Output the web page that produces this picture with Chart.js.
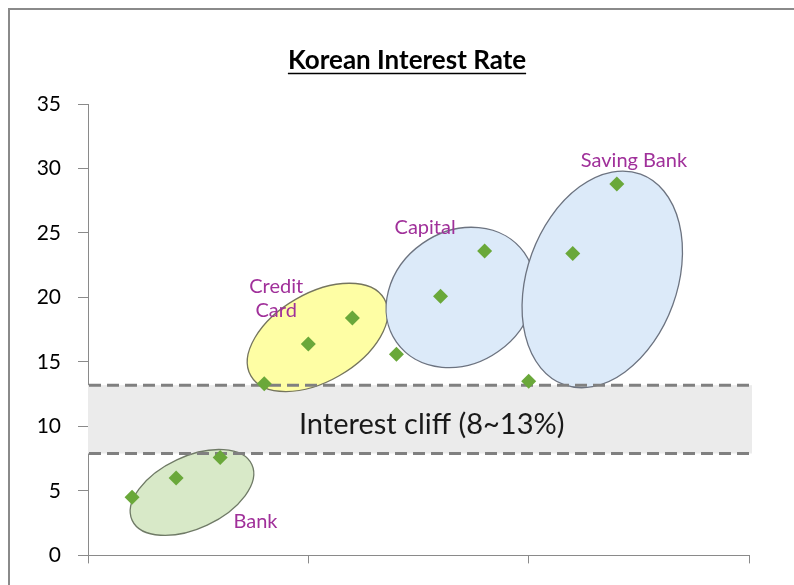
<!DOCTYPE html>
<html><head><meta charset="utf-8">
<script src="https://cdn.jsdelivr.net/npm/chart.js@4/dist/chart.umd.min.js"></script>
<style>html,body{margin:0;padding:0;background:#fff;overflow:hidden}#wrap{width:794px;height:585px;position:relative}</style>
</head><body><div id="wrap"><canvas id="c" width="794" height="585"></canvas></div>
<script>
// ---- data ----
const xPositions = [1, 2, 3, 4, 5, 6, 7, 8, 9, 10, 11, 12];
const rates = [4.5, 6.0, 7.6, 13.3, 16.4, 18.4, 15.6, 20.1, 23.6, 13.5, 23.4, 28.8];
const yTickValues = [0, 5, 10, 15, 20, 25, 30, 35];
const xTickValues = [0, 5, 10, 15];
const cliffLow = 7.9;
const cliffHigh = 13.2;
const titleText = 'Korean Interest Rate';
const cliffText = 'Interest cliff (8~13%)';
const groupNames = ['Bank', 'Credit\nCard', 'Capital', 'Saving Bank'];

// ---- annotation shapes (data-space centres, pixel radii) ----
const groupShapes = [
  {cx: 2.36, cy: 4.88, rx: 66, ry: 36, rot: -25, fill: '#d8e9c8', stroke: '#6f7a66', lx: 3.8, ly: 2.63},
  {cx: 5.21, cy: 16.9, rx: 77, ry: 44, rot: -30, fill: '#fefea4', stroke: '#75755e', lx: 4.27, ly: 19.9},
  {cx: 8.45, cy: 20.0, rx: 78, ry: 66, rot: -35, fill: '#dceaf9', stroke: '#6c7380', lx: 7.65, ly: 25.4},
  {cx: 11.67, cy: 21.4, rx: 75, ry: 112, rot: 20, fill: '#dceaf9', stroke: '#6c7380', lx: 12.39, ly: 30.6}
];

const FONT = 'Lato, "Open Sans", sans-serif';

const decorPlugin = {
  id: 'decor',
  beforeDraw(chart) {
    const ctx = chart.ctx;
    ctx.save();
    ctx.fillStyle = '#fff';
    ctx.fillRect(0, 0, chart.width, chart.height);
    ctx.strokeStyle = '#8a8a8a';
    ctx.lineWidth = 2;
    ctx.strokeRect(9, 9, 900, 700);
    // title
    ctx.font = 'bold 26px ' + FONT;
    ctx.fillStyle = '#000';
    ctx.textAlign = 'center';
    ctx.textBaseline = 'middle';
    ctx.fillText(titleText, 407, 61);
    const w = ctx.measureText(titleText).width;
    ctx.strokeStyle = '#000';
    ctx.lineWidth = 1.5;
    ctx.beginPath();
    ctx.moveTo(407 - w / 2, 73.5);
    ctx.lineTo(407 + w / 2, 73.5);
    ctx.stroke();
    ctx.restore();
  },
  beforeDatasetsDraw(chart) {
    const ctx = chart.ctx;
    const xs = chart.scales.x, ys = chart.scales.y;
    const x0 = xs.getPixelForValue(0), x1 = xs.getPixelForValue(15) + 3;
    const yH = ys.getPixelForValue(cliffHigh), yL = ys.getPixelForValue(cliffLow);
    ctx.save();
    // band
    ctx.fillStyle = '#ebebeb';
    ctx.fillRect(x0, yH, x1 - x0, yL - yH);
    // ellipses
    groupShapes.forEach(g => {
      ctx.beginPath();
      ctx.ellipse(xs.getPixelForValue(g.cx), ys.getPixelForValue(g.cy), g.rx, g.ry, g.rot * Math.PI / 180, 0, Math.PI * 2);
      ctx.fillStyle = g.fill;
      ctx.fill();
      ctx.strokeStyle = g.stroke;
      ctx.lineWidth = 1.3;
      ctx.stroke();
    });
    // dashed lines
    ctx.strokeStyle = '#808080';
    ctx.lineWidth = 3;
    ctx.setLineDash([12, 6]);
    [yH, yL].forEach(y => {
      ctx.beginPath();
      ctx.moveTo(x0 + 1, y);
      ctx.lineTo(x1, y);
      ctx.stroke();
    });
    ctx.setLineDash([]);
    // band label
    ctx.font = '29px ' + FONT;
    ctx.fillStyle = '#1a1a1a';
    ctx.textAlign = 'center';
    ctx.textBaseline = 'middle';
    ctx.fillText(cliffText, xs.getPixelForValue(7.8), ys.getPixelForValue(10.15));
    // group labels
    ctx.font = '20px ' + FONT;
    ctx.fillStyle = '#a0309a';
    groupShapes.forEach((g, i) => {
      const lines = groupNames[i].split('\n');
      const cx = xs.getPixelForValue(g.lx), cy = ys.getPixelForValue(g.ly);
      lines.forEach((ln, k) => {
        ctx.fillText(ln, cx, cy + (k - (lines.length - 1) / 2) * 24);
      });
    });
    ctx.restore();
  }
};

new Chart(document.getElementById('c'), {
  type: 'scatter',
  data: {
    datasets: [{
      data: xPositions.map((x, i) => ({x: x, y: rates[i]})),
      pointStyle: 'rectRot',
      pointRadius: 7.5,
      pointHoverRadius: 7.5,
      backgroundColor: '#6aa83a',
      borderColor: '#6aa83a',
      borderWidth: 0,
      showLine: false
    }]
  },
  options: {
    responsive: false,
    animation: false,
    events: [],
    layout: {padding: {top: 104, right: 45, bottom: 21, left: 0}},
    plugins: {legend: {display: false}, title: {display: false}, tooltip: {enabled: false}},
    scales: {
      x: {
        type: 'linear', min: 0, max: 15,
        afterBuildTicks: s => { s.ticks = xTickValues.map(v => ({value: v})); },
        ticks: {display: false},
        grid: {drawOnChartArea: false, drawTicks: true, tickLength: 8, color: '#8a8a8a', lineWidth: 1},
        border: {display: true, color: '#8a8a8a', width: 1},
        afterFit: s => { s.height = 8; }
      },
      y: {
        type: 'linear', min: 0, max: 35,
        afterBuildTicks: s => { s.ticks = yTickValues.map(v => ({value: v})); },
        ticks: {font: {family: FONT, size: 21}, color: '#000', padding: 17},
        grid: {drawOnChartArea: false, drawTicks: true, tickLength: 10, color: '#8a8a8a', lineWidth: 1},
        border: {display: true, color: '#8a8a8a', width: 1},
        afterFit: s => { s.width = 88; }
      }
    }
  },
  plugins: [decorPlugin]
});
</script>
</body></html>
